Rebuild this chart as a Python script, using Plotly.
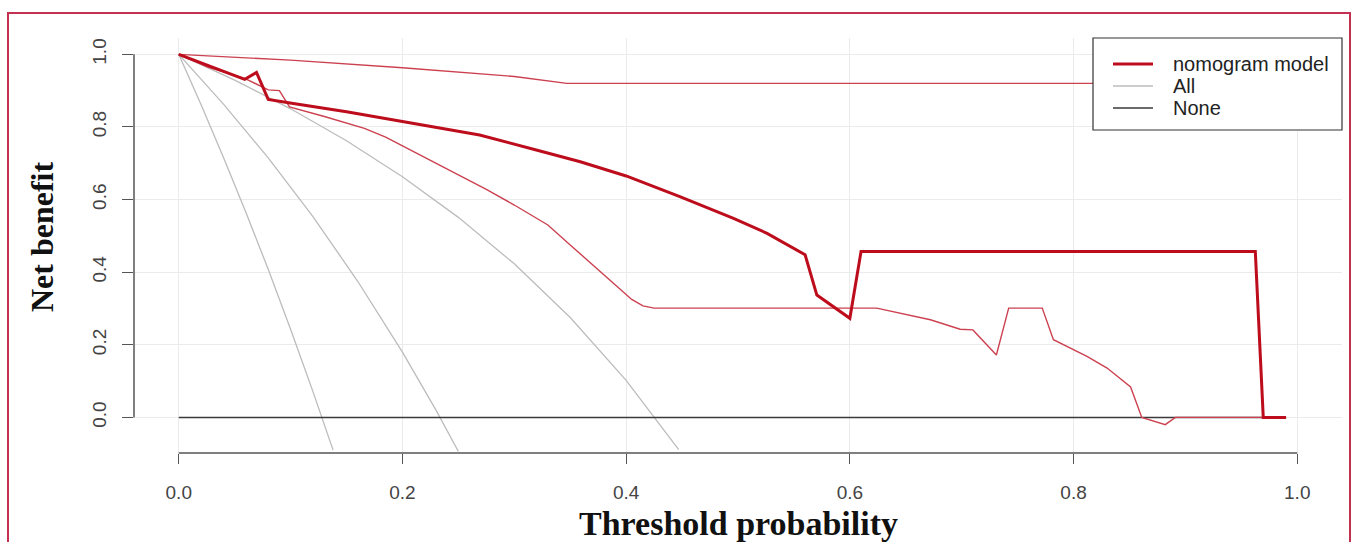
import plotly.graph_objects as go

# ---------------- data ----------------
x_nomo = [0, 0.03, 0.059, 0.0695, 0.080, 0.101, 0.15, 0.2, 0.269, 0.318, 0.359, 0.40,
          0.448, 0.496, 0.526, 0.560, 0.5705, 0.600, 0.610, 0.9625, 0.9696, 0.99]
y_nomo = [1.0, 0.965, 0.931, 0.950, 0.876, 0.865, 0.842, 0.815, 0.778, 0.738, 0.704, 0.665,
          0.608, 0.548, 0.507, 0.448, 0.337, 0.273, 0.457, 0.457, 0.0, 0.0]

x_nomo_hi = [0, 0.1, 0.2, 0.3, 0.347, 0.99]
y_nomo_hi = [1.0, 0.984, 0.963, 0.939, 0.920, 0.920]

x_nomo_lo = [0, 0.026, 0.059, 0.065, 0.080, 0.090, 0.099, 0.131, 0.166, 0.185, 0.205, 0.225,
             0.25, 0.275, 0.30, 0.33, 0.35, 0.37, 0.39, 0.405, 0.415, 0.425, 0.624, 0.672,
             0.6986, 0.710, 0.731, 0.742, 0.772, 0.782, 0.812, 0.830, 0.851, 0.861, 0.882,
             0.891, 0.99]
y_nomo_lo = [1.0, 0.965, 0.934, 0.925, 0.902, 0.900, 0.855, 0.828, 0.796, 0.772, 0.740, 0.706,
             0.668, 0.628, 0.585, 0.530, 0.475, 0.420, 0.365, 0.325, 0.307, 0.301, 0.301, 0.269,
             0.243, 0.241, 0.172, 0.301, 0.301, 0.214, 0.168, 0.136, 0.084, 0.0, -0.020,
             0.0, 0.0]

x_all = [0, 0.04, 0.08, 0.12, 0.16, 0.20, 0.23, 0.25]
y_all = [1.0, 0.863, 0.715, 0.553, 0.375, 0.180, 0.020, -0.094]

x_all_lo = [0, 0.02, 0.04, 0.06, 0.08, 0.10, 0.12, 0.138]
y_all_lo = [1.0, 0.861, 0.716, 0.565, 0.408, 0.243, 0.071, -0.090]

x_all_hi = [0, 0.05, 0.10, 0.15, 0.20, 0.25, 0.30, 0.35, 0.40, 0.447]
y_all_hi = [1.0, 0.929, 0.850, 0.762, 0.663, 0.551, 0.423, 0.275, 0.102, -0.089]

x_none = [0, 0.99]
y_none = [0, 0]

x_ticks = [0, 0.2, 0.4, 0.6, 0.8, 1.0]
x_ticklabels = ["0.0", "0.2", "0.4", "0.6", "0.8", "1.0"]
y_ticks = [0, 0.2, 0.4, 0.6, 0.8, 1.0]
y_ticklabels = ["0.0", "0.2", "0.4", "0.6", "0.8", "1.0"]

legend_labels = ["nomogram model", "All", "None"]

# ---------------- styles ----------------
RED = "#bd0d1c"
RED_THIN = "#cc4150"
GREY = "#bcbcbc"
NONE_C = "#3a3a3a"

fig = go.Figure()

fig.add_trace(go.Scatter(x=x_all_lo, y=y_all_lo, mode="lines", line=dict(color=GREY, width=1.3),
                         showlegend=False, hoverinfo="skip"))
fig.add_trace(go.Scatter(x=x_all_hi, y=y_all_hi, mode="lines", line=dict(color=GREY, width=1.3),
                         showlegend=False, hoverinfo="skip"))
fig.add_trace(go.Scatter(x=x_all, y=y_all, mode="lines", name=legend_labels[1],
                         line=dict(color=GREY, width=1.3), showlegend=False))
fig.add_trace(go.Scatter(x=x_none, y=y_none, mode="lines", name=legend_labels[2],
                         line=dict(color=NONE_C, width=1.5), showlegend=False))
fig.add_trace(go.Scatter(x=x_nomo_hi, y=y_nomo_hi, mode="lines", line=dict(color=RED_THIN, width=1.4),
                         showlegend=False, hoverinfo="skip"))
fig.add_trace(go.Scatter(x=x_nomo_lo, y=y_nomo_lo, mode="lines", line=dict(color=RED_THIN, width=1.4),
                         showlegend=False, hoverinfo="skip"))
fig.add_trace(go.Scatter(x=x_nomo, y=y_nomo, mode="lines", name=legend_labels[0],
                         line=dict(color=RED, width=3), showlegend=False))

W, H = 1355, 542
ML, MR, MT, MB = 134, 13, 38, 89
PW, PH = W - ML - MR, H - MT - MB


def px_x(p):
    return (p - ML) / PW


def px_y(p):
    return (H - MB - p) / PH


tick_font = dict(family="Liberation Sans, Arial", size=19, color="#444")
title_font = dict(family="Liberation Serif, Times New Roman", size=32, color="#111")
legend_font = dict(family="Liberation Sans, Arial", size=20, color="#222")

shapes = [
    dict(type="line", xref="x", yref="paper", x0=0, x1=1, y0=0, y1=0,
         line=dict(color="#555", width=1.5)),
    dict(type="line", xref="paper", yref="y", x0=0, x1=0, y0=0, y1=1,
         line=dict(color="#555", width=1.5)),
    dict(type="rect", xref="paper", yref="paper",
         x0=px_x(8), x1=px_x(1350), y0=px_y(560), y1=px_y(13),
         line=dict(color="#c4304f", width=2), fillcolor="rgba(0,0,0,0)", layer="below"),
    # legend box
    dict(type="rect", xref="paper", yref="paper",
         x0=px_x(1093), x1=px_x(1342), y0=px_y(130), y1=px_y(38),
         line=dict(color="#333", width=1.2), fillcolor="white", layer="above"),
]

annotations = [
    dict(text="<b>Threshold probability</b>", xref="paper", yref="paper",
         x=0.5, y=px_y(523), xanchor="center", yanchor="middle",
         showarrow=False, font=dict(family=title_font["family"], size=34, color="#111")),
    dict(text="<b>Net benefit</b>", xref="paper", yref="paper",
         x=px_x(42), y=px_y(237), xanchor="center", yanchor="middle",
         textangle=-90, showarrow=False, font=title_font),
]

legend_colors = [RED, GREY, NONE_C]
legend_widths = [3, 1.3, 1.5]
legend_rows = [64, 86, 108]
for lab, col, lw, row in zip(legend_labels, legend_colors, legend_widths, legend_rows):
    shapes.append(dict(type="line", xref="paper", yref="paper",
                       x0=px_x(1113), x1=px_x(1153), y0=px_y(row), y1=px_y(row),
                       line=dict(color=col, width=lw), layer="above"))
    annotations.append(dict(text=lab, xref="paper", yref="paper",
                            x=px_x(1171), y=px_y(row), xanchor="left", yanchor="middle",
                            showarrow=False, font=legend_font))

fig.update_layout(
    width=W, height=H,
    margin=dict(l=ML, r=MR, t=MT, b=MB),
    paper_bgcolor="white", plot_bgcolor="white",
    xaxis=dict(range=[-0.04, 1.04], tickvals=x_ticks, ticktext=x_ticklabels,
               ticks="outside", ticklen=10, tickwidth=1.3, tickcolor="#555",
               showline=False, zeroline=False, showgrid=True, gridcolor="#ebebeb",
               gridwidth=1, tickfont=tick_font, ticklabelstandoff=12),
    yaxis=dict(range=[-0.098, 1.045], tickvals=y_ticks, ticktext=y_ticklabels,
               ticks="outside", ticklen=11, tickwidth=1.3, tickcolor="#555",
               showline=False, zeroline=False, showgrid=True, gridcolor="#ebebeb",
               gridwidth=1, tickfont=tick_font, tickangle=-90, ticklabelstandoff=8),
    showlegend=False,
    shapes=shapes,
    annotations=annotations,
)

fig.write_html("out.html")
